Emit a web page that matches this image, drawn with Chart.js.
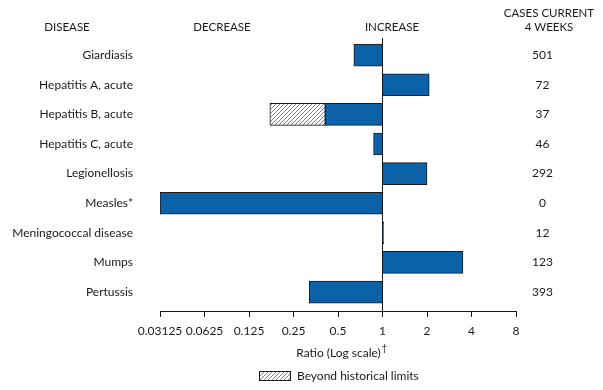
<!DOCTYPE html>
<html lang="en">
<head>
<meta charset="UTF-8">
<title>Disease ratio chart</title>
<script src="https://cdn.jsdelivr.net/npm/chart.js"></script>
<style>
  html, body { margin: 0; padding: 0; background: #fff; }
  #wrap { position: relative; width: 603px; height: 390px; }
</style>
</head>
<body>
<div id="wrap"><canvas id="chart"></canvas></div>
<script>
// data
const diseases = ['Giardiasis', 'Hepatitis A, acute', 'Hepatitis B, acute', 'Hepatitis C, acute',
  'Legionellosis', 'Measles*', 'Meningococcal disease', 'Mumps', 'Pertussis'];
const cases = ['501', '72', '37', '46', '292', '0', '12', '123', '393'];
const ratios = [0.64, 2.07, 0.41, 0.87, 2.0, 0.03125, 1.02, 3.5, 0.32];
// part of the bar beyond historical limits (Hepatitis B, acute)
const beyondIndex = [2];
const beyondRange = [[0.41, 0.173]];
const xTicks = [0.03125, 0.0625, 0.125, 0.25, 0.5, 1, 2, 4, 8];
const xTickLabels = ['0.03125', '0.0625', '0.125', '0.25', '0.5', '1', '2', '4', '8'];

const ink = '#1a1a1a';
const blue = '#0b62a8';

// hatch pattern for the "beyond historical limits" part
function makeHatch() {
  const c = document.createElement('canvas');
  c.width = 4; c.height = 4;
  const g = c.getContext('2d');
  g.fillStyle = '#fff';
  g.fillRect(0, 0, 4, 4);
  g.strokeStyle = '#858585';
  g.lineWidth = 1;
  g.beginPath();
  g.moveTo(0, 4); g.lineTo(4, 0);
  g.moveTo(-1, 1); g.lineTo(1, -1);
  g.moveTo(3, 5); g.lineTo(5, 3);
  g.stroke();
  return g.createPattern(c, 'repeat');
}
const hatch = makeHatch();

Chart.defaults.font.family = 'Lato, "Open Sans", sans-serif';
Chart.defaults.font.size = 12;
Chart.defaults.color = ink;

// headers, axis title and legend
const extraText = {
  id: 'extraText',
  afterDraw(chart) {
    const ctx = chart.ctx;
    ctx.save();
    ctx.fillStyle = ink;
    ctx.font = '11.5px Lato, "Open Sans", sans-serif';
    ctx.textAlign = 'center';
    ctx.textBaseline = 'middle';
    ctx.fillText('DISEASE', 67, 27);
    ctx.fillText('DECREASE', 222, 27);
    ctx.fillText('INCREASE', 392, 27);
    ctx.fillText('CASES CURRENT', 549, 13);
    ctx.fillText('4 WEEKS', 549, 27);

    ctx.font = '12px Lato, "Open Sans", sans-serif';
    ctx.textAlign = 'left';
    const title = 'Ratio (Log scale)';
    const w = ctx.measureText(title).width;
    const tx = 341 - (w + 5) / 2;
    ctx.fillText(title, tx, 353);
    ctx.font = '9px Lato, "Open Sans", sans-serif';
    ctx.fillText('\u2020', tx + w + 1, 348);

    // legend
    ctx.fillStyle = hatch;
    ctx.fillRect(259.5, 371.5, 31, 9);
    ctx.strokeStyle = ink;
    ctx.lineWidth = 1;
    ctx.strokeRect(259.5, 371.5, 31, 9);
    ctx.fillStyle = ink;
    ctx.font = '12px Lato, "Open Sans", sans-serif';
    ctx.fillText('Beyond historical limits', 297, 376);
    ctx.restore();
  }
};

const ctx = document.getElementById('chart').getContext('2d');
new Chart(ctx, {
  type: 'bar',
  data: {
    datasets: [{
      label: 'Ratio',
      data: ratios.map((r, i) => ({ y: i, x: [1, r] })),
      backgroundColor: blue,
      borderColor: ink,
      borderWidth: 1,
      borderSkipped: false,
      barThickness: 22,
      grouped: false
    }, {
      label: 'Beyond historical limits',
      data: beyondIndex.map((idx, k) => ({ y: idx, x: beyondRange[k] })),
      backgroundColor: hatch,
      borderColor: ink,
      borderWidth: 1,
      borderSkipped: false,
      barThickness: 22,
      grouped: false
    }]
  },
  options: {
    indexAxis: 'y',
    responsive: true,
    maintainAspectRatio: false,
    animation: false,
    layout: { padding: { top: 38, left: 0, right: 0, bottom: 0 } },
    plugins: { legend: { display: false }, tooltip: { enabled: false } },
    scales: {
      x: {
        type: 'logarithmic',
        min: 0.03125,
        max: 8,
        afterBuildTicks: s => { s.ticks = xTicks.map(v => ({ value: v })); },
        afterFit: s => { s.height = 79; },
        ticks: {
          callback: v => xTickLabels[xTicks.indexOf(v)],
          autoSkip: false,
          maxRotation: 0,
          padding: 7,
          font: { size: 12 }
        },
        grid: {
          drawOnChartArea: true,
          color: c => (c.tick && c.tick.value === 1 ? ink : 'rgba(0,0,0,0)'),
          tickColor: ink,
          tickLength: 6,
          lineWidth: 1
        },
        border: { display: true, color: ink }
      },
      y: {
        type: 'linear',
        position: 'left',
        reverse: true,
        offset: false,
        min: -0.58,
        max: 8.64,
        afterBuildTicks: s => { s.ticks = diseases.map((d, i) => ({ value: i })); },
        afterFit: s => { s.width = 160; },
        ticks: {
          callback: v => diseases[v],
          padding: 27,
          font: { size: 12 }
        },
        grid: { display: false, drawTicks: false, offset: false },
        border: { display: false }
      },
      y2: {
        type: 'linear',
        position: 'right',
        reverse: true,
        offset: false,
        min: -0.58,
        max: 8.64,
        afterBuildTicks: s => { s.ticks = cases.map((c, i) => ({ value: i })); },
        afterFit: s => { s.width = 87; },
        ticks: {
          callback: v => cases[v],
          padding: 16,
          crossAlign: 'center',
          font: { size: 12 }
        },
        grid: { display: false, drawTicks: false, offset: false },
        border: { display: false }
      }
    }
  },
  plugins: [extraText]
});
</script>
</body>
</html>
